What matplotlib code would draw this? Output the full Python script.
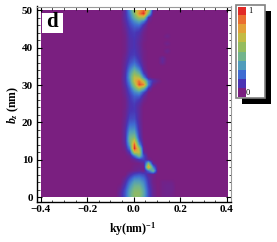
"""Panel d: intensity map over ky and bz, with the stepped legend box on the right."""

import numpy as np
import matplotlib
matplotlib.use("Agg")
import matplotlib.pyplot as plt
from matplotlib.colors import LinearSegmentedColormap
from matplotlib.patches import Rectangle

plt.rcParams["font.family"] = ["Liberation Serif", "DejaVu Serif"]
plt.rcParams["font.weight"] = "bold"
plt.rcParams["mathtext.fontset"] = "custom"
plt.rcParams["mathtext.rm"] = "Liberation Serif:bold"
plt.rcParams["mathtext.it"] = "Liberation Serif:italic:bold"
plt.rcParams["mathtext.bf"] = "Liberation Serif:bold"

W, H = 277, 242

LEGEND_COLORS = ["#7a1f80", "#4a34b4", "#3f6cd2", "#509cbc", "#72b48c",
                 "#95bc5e", "#c3bb44", "#e3a038", "#ea6e30", "#e22a26"]
X_TICKS = [-0.4, -0.2, 0.0, 0.2, 0.4]
Y_TICKS = [0, 10, 20, 30, 40, 50]

# ky columns of the table below, everything outside them is zero
KY_COLS = [-0.10, -0.08, -0.06, -0.04, -0.02, 0.0, 0.02, 0.04, 0.06, 0.08, 0.10, 0.12, 0.14, 0.16]
# one row per nm of bz, from 50 down to 0, read by eye (percent of max)
INTENSITY = [
    [0, 0, 0, 8, 30, 56, 76, 90, 66, 5, 0, 0, 0, 0],
    [0, 0, 0, 8, 26, 50, 85, 100, 46, 1, 0, 0, 0, 0],
    [0, 0, 0, 8, 22, 42, 60, 60, 10, 0, 0, 0, 0, 0],
    [0, 0, 0, 7, 18, 30, 38, 26, 3, 0, 0, 0, 0, 0],
    [0, 0, 0, 5, 15, 22, 24, 10, 0, 0, 0, 0, 0, 0],
    [0, 0, 0, 4, 12, 17, 15, 5, 0, 0, 0, 0, 0, 0],
    [0, 0, 0, 3, 11, 13, 10, 3, 0, 0, 0, 0, 0, 0],
    [0, 0, 0, 2, 10, 12, 8, 2, 0, 0, 0, 0, 3, 0],
    [0, 0, 0, 2, 9, 11, 7, 2, 0, 0, 0, 0, 0, 0],
    [0, 0, 0, 2, 9, 11, 6, 1, 0, 0, 0, 0, 3, 0],
    [0, 0, 0, 2, 9, 11, 7, 1, 0, 0, 0, 0, 0, 0],
    [0, 0, 0, 2, 10, 12, 7, 2, 0, 0, 0, 0, 4, 0],
    [0, 0, 0, 3, 11, 13, 8, 2, 0, 0, 0, 0, 0, 0],
    [0, 0, 0, 4, 13, 17, 10, 2, 0, 0, 0, 6, 0, 0],
    [0, 0, 0, 5, 16, 22, 13, 3, 0, 0, 0, 5, 0, 0],
    [0, 0, 0, 6, 21, 30, 19, 4, 0, 0, 0, 0, 0, 0],
    [0, 0, 0, 7, 27, 41, 29, 6, 0, 0, 0, 0, 0, 0],
    [0, 0, 0, 8, 33, 53, 43, 13, 1, 0, 0, 0, 0, 0],
    [0, 0, 0, 9, 35, 65, 62, 28, 3, 0, 0, 0, 0, 0],
    [0, 0, 0, 9, 31, 68, 88, 62, 24, 10, 4, 0, 0, 0],
    [0, 0, 0, 7, 25, 56, 95, 85, 26, 4, 0, 0, 0, 0],
    [0, 0, 0, 5, 19, 40, 60, 42, 10, 0, 0, 0, 0, 0],
    [0, 0, 0, 4, 15, 28, 33, 16, 1, 0, 0, 0, 0, 0],
    [0, 0, 0, 3, 12, 20, 20, 6, 0, 0, 0, 0, 0, 0],
    [0, 0, 0, 2, 11, 16, 12, 3, 0, 0, 0, 0, 0, 0],
    [0, 0, 0, 2, 10, 13, 8, 1, 0, 0, 0, 0, 0, 0],
    [0, 0, 0, 2, 10, 12, 6, 0, 0, 0, 0, 0, 0, 0],
    [0, 0, 0, 3, 11, 12, 6, 0, 0, 0, 0, 0, 0, 0],
    [0, 0, 0, 3, 13, 14, 6, 0, 0, 0, 0, 0, 0, 0],
    [0, 0, 0, 4, 15, 16, 6, 0, 0, 0, 0, 0, 0, 0],
    [0, 0, 0, 5, 19, 20, 7, 0, 0, 0, 0, 0, 0, 0],
    [0, 0, 0, 6, 24, 25, 8, 0, 0, 0, 0, 0, 0, 0],
    [0, 0, 0, 7, 30, 31, 9, 0, 0, 0, 0, 0, 0, 0],
    [0, 0, 0, 7, 37, 39, 11, 0, 0, 0, 0, 0, 0, 0],
    [0, 0, 0, 7, 43, 50, 13, 0, 0, 0, 0, 0, 0, 0],
    [0, 0, 0, 7, 45, 70, 19, 0, 0, 0, 0, 0, 0, 0],
    [0, 0, 0, 5, 38, 92, 32, 1, 0, 0, 0, 0, 0, 0],
    [0, 0, 0, 3, 26, 100, 58, 2, 0, 0, 0, 0, 0, 0],
    [0, 0, 0, 1, 12, 68, 68, 5, 0, 0, 0, 0, 0, 0],
    [0, 0, 0, 0, 3, 24, 48, 16, 0, 0, 0, 0, 0, 0],
    [0, 0, 0, 0, 1, 5, 12, 14, 4, 0, 0, 0, 0, 0],
    [0, 0, 0, 0, 0, 1, 2, 6, 48, 4, 0, 0, 0, 0],
    [0, 0, 0, 0, 0, 2, 3, 2, 82, 26, 0, 0, 0, 0],
    [0, 0, 0, 0, 1, 3, 5, 2, 22, 46, 0, 0, 0, 0],
    [0, 0, 0, 0, 8, 15, 18, 15, 6, 3, 0, 0, 0, 0],
    [0, 0, 0, 4, 16, 27, 28, 22, 9, 2, 0, 0, 0, 0],
    [0, 0, 0, 8, 24, 36, 36, 28, 11, 2, 0, 2, 2, 2],
    [0, 0, 2, 12, 30, 43, 44, 32, 13, 3, 0, 2, 3, 3],
    [0, 0, 4, 16, 35, 49, 50, 36, 15, 4, 0, 2, 3, 3],
    [0, 0, 6, 18, 38, 53, 54, 38, 16, 4, 0, 2, 3, 2],
    [0, 0, 6, 18, 38, 53, 52, 36, 16, 5, 0, 2, 2, 2],
]


def px_rect(x0, y0, x1, y1):
    """Figure-fraction rectangle from picture pixels (y measured from the top)."""
    return [x0 / W, 1 - y1 / H, (x1 - x0) / W, (y1 - y0) / H]


def draw_map(fig, cmap):
    ax = fig.add_axes(px_rect(36.5, 6.5, 231, 201.5))
    # pad the table out to the full ky range so the image scale stays uniform
    left = int(round((KY_COLS[0] + 0.4) / 0.02))
    right = int(round((0.4 - KY_COLS[-1]) / 0.02))
    grid = np.pad(np.array(INTENSITY[::-1], dtype=float) / 100, ((0, 0), (left, right)))
    im = ax.imshow(grid, origin="lower", cmap=cmap, vmin=0, vmax=1, aspect="auto",
                   interpolation="bilinear", interpolation_stage="data",
                   extent=[-0.41, 0.41, -0.5, 50.5])
    im.set_clip_path(Rectangle((-0.4, 0), 0.8, 50, transform=ax.transData))
    ax.set_xlim(-0.418, 0.418)
    ax.set_ylim(-1.2, 51.07)

    ax.set_xticks(X_TICKS)
    ax.set_xticklabels(["\u22120.4", "\u22120.2", "0.0", "0.2", "0.4"])
    ax.set_yticks(Y_TICKS)
    ax.set_xticks(np.arange(-0.4, 0.41, 0.05), minor=True)
    ax.set_yticks(np.arange(0, 51, 2), minor=True)
    ax.tick_params(which="major", length=3.5, width=0.8, direction="in", top=True, right=True,
                   labelsize=8, pad=2.5)
    ax.tick_params(which="minor", length=1.8, width=0.5, direction="in", top=True, right=True)
    for side in ("top", "right"):
        ax.spines[side].set_color("#9a9a9a")
    ax.spines["left"].set_linewidth(1.0)
    ax.spines["bottom"].set_linewidth(1.0)

    fig.text(133 / W, 1 - 229 / H, r"ky(nm)$^{\mathbf{-1}}$", ha="center", va="center", fontsize=8.5)
    fig.text(13 / W, 1 - 105 / H, r"$\mathit{b}_{\mathit{z}}$ (nm)", rotation=90,
             ha="center", va="center", fontsize=8.5)

    # panel letter in its white box
    fig.add_artist(Rectangle((42 / W, 1 - 32.5 / H), 20.5 / W, 20 / H, transform=fig.transFigure,
                             facecolor="white", edgecolor="none"))
    fig.text(52 / W, 1 - 22 / H, "d", ha="center", va="center", fontsize=15)


def draw_legend(fig):
    # black drop shadow, then white box with a grey border
    fig.add_artist(Rectangle((242 / W, 1 - 104 / H), 29 / W, 93 / H, transform=fig.transFigure,
                             facecolor="black", edgecolor="none"))
    fig.add_artist(Rectangle((236 / W, 1 - 98 / H), 29 / W, 93 / H, transform=fig.transFigure,
                             facecolor="white", edgecolor="#808080", linewidth=1.2))
    ax = fig.add_axes(px_rect(238, 6.5, 245.5, 97))
    ax.set_zorder(5)  # figure-level patches sit above axes otherwise
    ax.imshow(np.arange(len(LEGEND_COLORS)).reshape(-1, 1), origin="lower", aspect="auto",
              cmap=LinearSegmentedColormap.from_list("steps", LEGEND_COLORS, N=len(LEGEND_COLORS)))
    ax.axis("off")
    fig.text(250 / W, 1 - 11 / H, "1", ha="center", va="center", fontsize=6, fontweight="normal", zorder=6)
    fig.text(248 / W, 1 - 93 / H, "0", ha="center", va="center", fontsize=6, fontweight="normal", zorder=6)


def main():
    fig = plt.figure(figsize=(W / 100, H / 100), dpi=100)
    cmap = LinearSegmentedColormap.from_list("map", LEGEND_COLORS)
    draw_map(fig, cmap)
    draw_legend(fig)
    fig.savefig("out.png", dpi=100)
    plt.close(fig)


if __name__ == "__main__":
    main()
